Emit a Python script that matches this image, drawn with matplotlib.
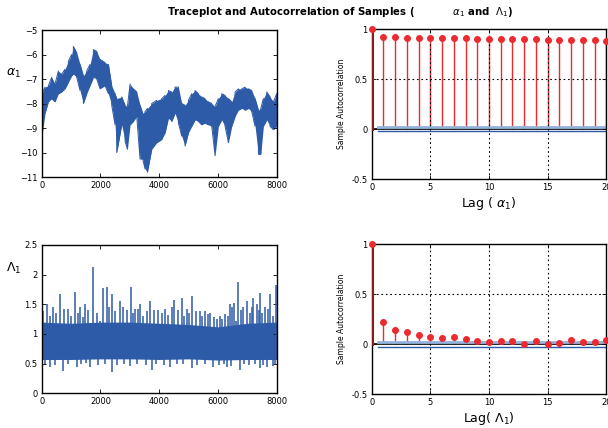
import numpy as np
import matplotlib
matplotlib.use('Agg')
import matplotlib.pyplot as plt

# alpha_1 trace: envelope (iteration, low, high)
alphaIter = [0, 114, 227, 340, 454, 567, 681, 794, 908, 1021, 1078, 1192,
             1305, 1419, 1532, 1646, 1759, 1873, 1986, 2156, 2270, 2383, 2497,
             2554, 2724, 2837, 2917, 3008, 3121, 3235, 3348, 3439, 3518, 3598,
             3745, 3916, 4086, 4199, 4313, 4426, 4540, 4653, 4767, 4880, 4994,
             5107, 5221, 5334, 5448, 5561, 5675, 5788, 5902, 6015, 6129, 6242,
             6356, 6469, 6583, 6696, 6810, 6923, 7037, 7150, 7264, 7377, 7457,
             7547, 7661, 7775, 7888, 8000]
alphaHigh = [-7.6, -7.33, -7.27, -6.93, -7.2, -6.67, -6.8, -6.6, -6.27, -6.0,
             -5.67, -5.93, -6.4, -6.87, -6.67, -6.4, -5.8, -5.87, -6.2, -6.33,
             -6.4, -7.27, -7.6, -7.8, -7.73, -8.07, -8.13, -7.2, -7.4, -7.53,
             -8.07, -8.4, -8.33, -8.2, -8.0, -7.87, -7.8, -7.67, -7.47, -7.53,
             -7.33, -7.33, -8.0, -8.07, -7.87, -7.6, -7.47, -7.6, -7.73, -7.8,
             -7.93, -8.0, -8.13, -7.8, -7.6, -7.67, -7.8, -7.93, -7.53, -7.4,
             -7.4, -7.33, -7.4, -7.47, -7.8, -8.27, -8.2, -7.8, -7.53, -7.73,
             -7.93, -7.6]
alphaLow = [-9.4, -8.4, -7.93, -7.8, -7.93, -7.6, -7.53, -7.4, -7.13, -6.87,
            -6.8, -6.93, -7.47, -8.0, -7.6, -7.27, -6.93, -7.0, -7.4, -7.27,
            -7.6, -8.07, -8.87, -10.0, -8.87, -9.53, -9.87, -8.87, -8.73,
            -8.53, -10.27, -10.27, -10.67, -10.8, -9.87, -9.6, -9.47, -9.2,
            -8.6, -8.73, -8.4, -8.8, -9.33, -9.73, -9.2, -8.93, -8.67, -8.73,
            -8.87, -8.8, -8.87, -8.93, -10.13, -8.93, -8.67, -8.93, -9.6,
            -8.93, -8.53, -8.27, -8.2, -8.27, -8.2, -8.33, -8.93, -10.07,
            -10.07, -8.93, -8.67, -8.93, -9.07, -8.93]

# Lambda_1 trace: dense core band plus the single spikes that stick out
lambdaCoreIter = [0, 1000, 2000, 3000, 4000, 5000, 6000, 7000, 8000]
lambdaCoreLow = [0.57, 0.57, 0.58, 0.58, 0.57, 0.58, 0.56, 0.57, 0.57]
lambdaCoreHigh = [1.2, 1.18, 1.2, 1.2, 1.18, 1.16, 1.12, 1.18, 1.2]
lambdaSpikeIter = [170, 397, 624, 908, 1135, 1305, 1475, 1759, 2100, 2213,
                   2383, 2667, 2781, 3030, 3178, 3348, 3689, 3973, 4199, 4426,
                   4506, 4767, 4937, 5107, 5391, 5561, 5732, 5959, 6072, 6242,
                   6413, 6549, 6696, 6867, 6980, 7207, 7320, 7434, 7604, 7775,
                   7979,
                   60, 280, 500, 760, 1000, 1230, 1390, 1580, 1880, 2000,
                   2300, 2500, 2900, 3100, 3280, 3450, 3580, 3820, 4080, 4300,
                   4640, 4850, 5020, 5250, 5460, 5650, 5850, 6150, 6350, 6480,
                   6620, 6780, 7080, 7150, 7400, 7500, 7700, 7880]
lambdaSpikeHigh = [1.5, 1.45, 1.67, 1.42, 1.7, 1.45, 1.5, 2.13, 1.78, 1.79,
                   1.67, 1.56, 1.45, 1.8, 1.42, 1.5, 1.56, 1.4, 1.42, 1.45,
                   1.58, 1.61, 1.42, 1.64, 1.39, 1.38, 1.36, 1.25, 1.3, 1.33,
                   1.5, 1.53, 1.88, 1.45, 1.56, 1.61, 1.5, 1.69, 1.45, 1.67,
                   1.82,
                   1.38, 1.3, 1.35, 1.42, 1.3, 1.36, 1.28, 1.4, 1.35, 1.22,
                   1.45, 1.38, 1.4, 1.35, 1.42, 1.3, 1.38, 1.4, 1.36, 1.32,
                   1.4, 1.3, 1.35, 1.38, 1.3, 1.33, 1.28, 1.25, 1.3, 1.45,
                   1.22, 1.4, 1.35, 1.45, 1.4, 1.35, 1.42, 1.3]
lambdaDipIter = [284, 738, 1192, 1646, 2383, 3008, 3745, 4370, 5107, 5845,
                 6299, 6753, 7434, 7661, 7888,
                 100, 450, 900, 1350, 1500, 1900, 2150, 2550, 2800, 3250,
                 3550, 3900, 4150, 4600, 4800, 5300, 5550, 6050, 6200, 6450,
                 6900, 7050, 7250, 7550, 7950]
lambdaDipLow = [0.45, 0.37, 0.45, 0.44, 0.36, 0.46, 0.39, 0.45, 0.42, 0.45,
                0.44, 0.39, 0.42, 0.44, 0.46,
                0.5, 0.48, 0.5, 0.49, 0.51, 0.48, 0.5, 0.47, 0.5, 0.49,
                0.48, 0.5, 0.47, 0.5, 0.49, 0.48, 0.5, 0.47, 0.49, 0.46,
                0.49, 0.48, 0.5, 0.47, 0.49]

# sample autocorrelations, lags 0..20
lags = np.arange(0, 21)
acfAlpha = [1.0, 0.92, 0.918, 0.917, 0.915, 0.913, 0.912, 0.91, 0.908, 0.906,
            0.905, 0.903, 0.901, 0.9, 0.898, 0.896, 0.894, 0.892, 0.89, 0.888,
            0.885]
acfLambda = [1.0, 0.223, 0.143, 0.127, 0.09, 0.073, 0.067, 0.077, 0.05, 0.033,
             0.023, 0.037, 0.03, 0.007, 0.037, 0.007, 0.01, 0.043, 0.023,
             0.023, 0.043]
confBound = 0.022

BLUE = '#2d5ba8'
RED = '#ec2a2f'


def zigzag(it, lo, hi):
    xs, ys = [], []
    for i, (a, b) in enumerate(zip(lo, hi)):
        xs += [it[i], it[i]]
        ys += [a, b] if i % 2 == 0 else [b, a]
    return xs, ys


def style_trace(ax, ylim, yticks, ylab, ylabY):
    ax.set_xlim(0, 8000)
    ax.set_ylim(*ylim)
    ax.set_xticks([0, 2000, 4000, 6000, 8000])
    ax.set_yticks(yticks)
    ax.set_ylabel(ylab, rotation=0, fontsize=9)
    ax.yaxis.set_label_coords(-0.12, ylabY)


def acf(ax, vals, xlab):
    ax.plot([0, 0], [0, vals[0]], color='#8b1a1a', lw=2.2, zorder=4)
    ax.plot([0], [vals[0]], 'o', color=RED, ms=4, zorder=5, clip_on=False)
    ax.vlines(lags[1:], 0, vals[1:], color=RED, lw=1)
    ax.plot(lags[1:], vals[1:], 'o', color=RED, ms=4, zorder=5, clip_on=False)
    ax.axhline(0, color='black', lw=1.2)
    ax.plot([0.5, 20], [confBound, confBound], color='#93b3dc', lw=2)
    ax.plot([0.5, 20], [-confBound, -confBound], color='#2d5ba8', lw=1)
    for x in [5, 10, 15]:
        ax.axvline(x, color='black', ls=(0, (1.5, 2.5)), lw=0.8)
    ax.axhline(0.5, color='black', ls=(0, (1.5, 2.5)), lw=0.8)
    ax.set_xlim(0, 20)
    ax.set_ylim(-0.5, 1)
    ax.set_xticks([0, 5, 10, 15, 20])
    ax.set_yticks([-0.5, 0, 0.5, 1])
    ax.set_yticklabels(['-0.5', '0', '0.5', '1'])
    ax.set_ylabel('Sample Autocorrelation', fontsize=5.5, labelpad=4)
    ax.set_xlabel(xlab, fontsize=9, labelpad=2)


def main():
    fig = plt.figure(figsize=(6.08, 4.28), dpi=100)
    ax1 = fig.add_axes([0.0686, 0.5864, 0.3865, 0.3435])
    ax2 = fig.add_axes([0.6113, 0.5811, 0.3859, 0.3505])
    ax3 = fig.add_axes([0.0686, 0.0811, 0.3865, 0.3465])
    ax4 = fig.add_axes([0.6113, 0.0787, 0.3859, 0.3505])

    # alpha_1 trace
    ax1.fill_between(alphaIter, alphaLow, alphaHigh, color=BLUE, lw=0)
    xs, ys = zigzag(alphaIter, alphaLow, alphaHigh)
    ax1.plot(xs, ys, color=BLUE, lw=0.7)
    style_trace(ax1, (-11, -5), range(-11, -4), r'$\alpha_1$', 0.66)

    # Lambda_1 trace
    ax3.fill_between(lambdaCoreIter, lambdaCoreLow, lambdaCoreHigh,
                     color=BLUE, lw=0)
    ax3.vlines(lambdaSpikeIter, 0.9, lambdaSpikeHigh, color=BLUE, lw=1.1)
    ax3.vlines(lambdaDipIter, lambdaDipLow, 0.9, color=BLUE, lw=1.1)
    style_trace(ax3, (0, 2.5), [0, 0.5, 1, 1.5, 2, 2.5], r'$\Lambda_1$', 0.79)
    ax3.set_yticklabels(['0', '0.5', '1', '1.5', '2', '2.5'])

    acf(ax2, acfAlpha, r'Lag ( $\alpha_1$)')
    acf(ax4, acfLambda, r'Lag( $\Lambda_1$)')

    for ax in [ax1, ax2, ax3, ax4]:
        ax.tick_params(direction='in', labelsize=6, length=3, width=0.6,
                       top=True, right=True, pad=3)
        for s in ax.spines.values():
            s.set_linewidth(1)

    fig.text(0.56, 0.972,
             r'Traceplot and Autocorrelation of Samples (           '
             r'$\alpha_1$ and  $\Lambda_1$)',
             ha='center', va='center', fontsize=7.3, fontweight='bold')

    fig.savefig('out.png', dpi=100)


if __name__ == '__main__':
    main()
